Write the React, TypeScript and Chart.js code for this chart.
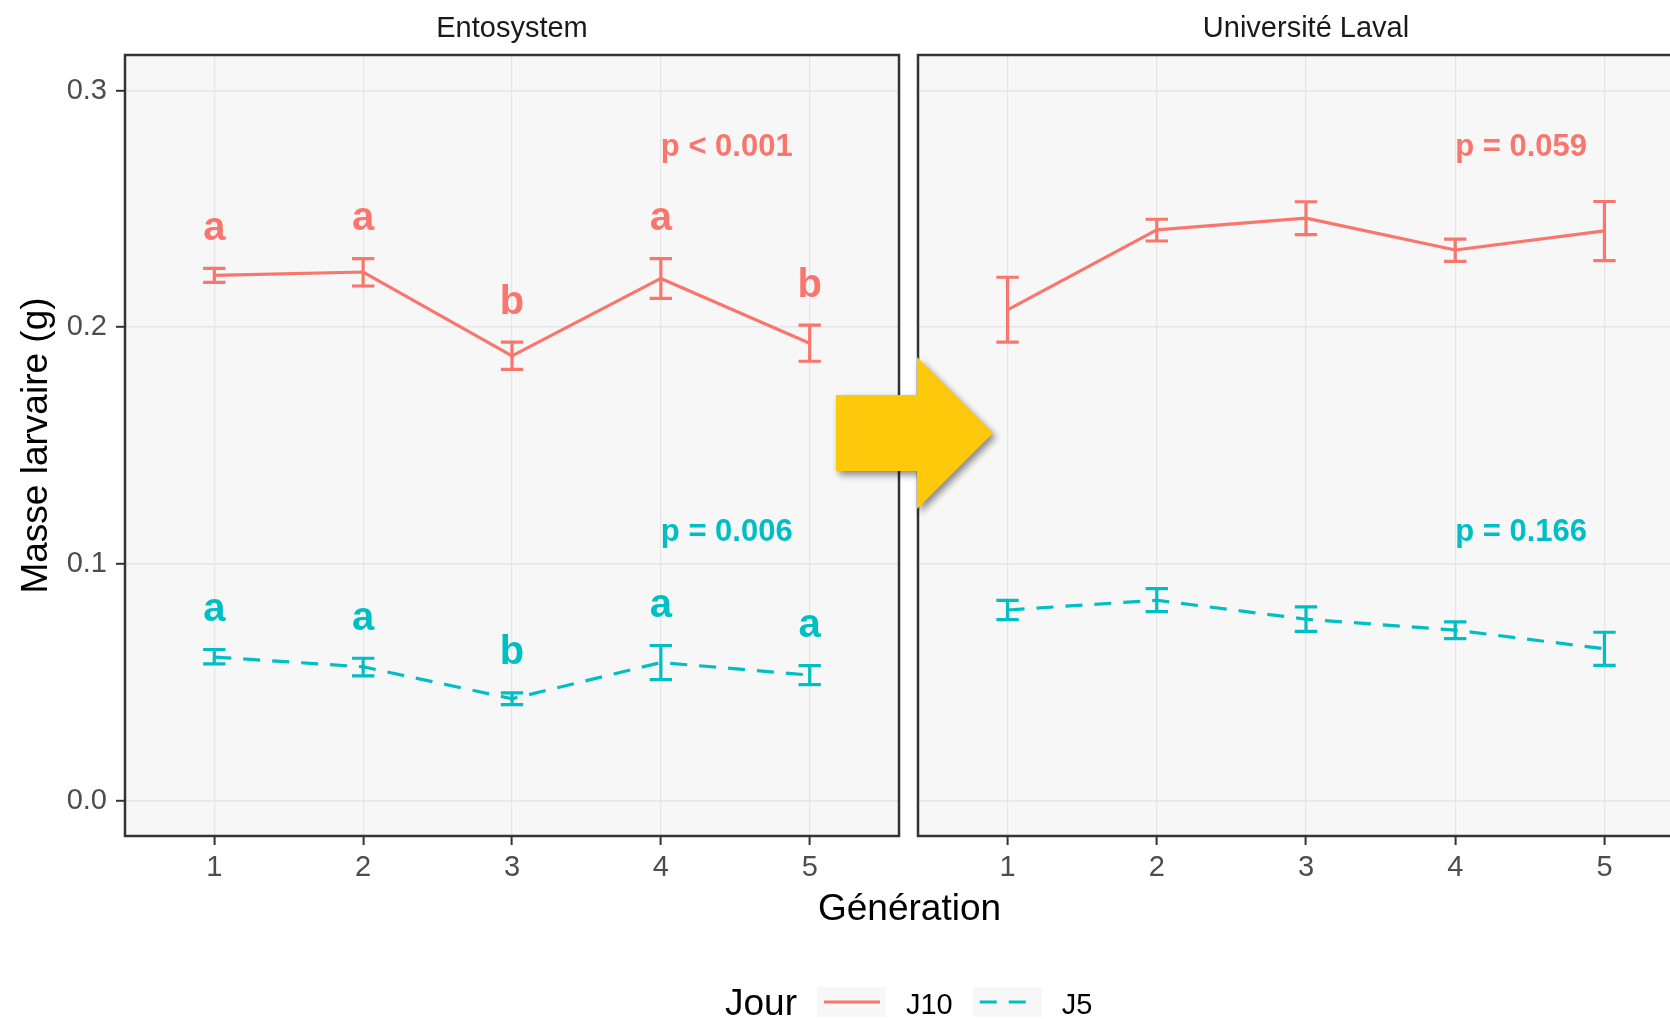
import { useEffect, useRef } from 'react';
import { Chart, registerables } from 'chart.js';

Chart.register(...registerables);

// ---------- data ----------
const generations = [1, 2, 3, 4, 5];
const seriesNames = ['J10', 'J5'];
const panelNames = ['Entosystem', 'Université Laval'];
const yTicks = [0, 0.1, 0.2, 0.3];

const entoJ10Mean = [0.2219, 0.2233, 0.1879, 0.2206, 0.1932];
const entoJ10Low = [0.2189, 0.2174, 0.1822, 0.2122, 0.1856];
const entoJ10High = [0.2248, 0.229, 0.1937, 0.229, 0.2009];
const entoJ5Mean = [0.0606, 0.0565, 0.043, 0.0583, 0.053];
const entoJ5Low = [0.0577, 0.0527, 0.0405, 0.0511, 0.049];
const entoJ5High = [0.0638, 0.0601, 0.0455, 0.0655, 0.057];

const lavalJ10Mean = [0.2073, 0.2411, 0.2461, 0.2326, 0.2407];
const lavalJ10Low = [0.1937, 0.2364, 0.2391, 0.2278, 0.2281];
const lavalJ10High = [0.2211, 0.2456, 0.253, 0.2372, 0.2531];
const lavalJ5Mean = [0.0805, 0.0846, 0.0766, 0.072, 0.0641];
const lavalJ5Low = [0.0764, 0.0798, 0.0715, 0.0684, 0.0571];
const lavalJ5High = [0.0846, 0.0895, 0.0818, 0.0755, 0.0711];

const entoJ10Letters = ['a', 'a', 'b', 'a', 'b'];
const entoJ5Letters = ['a', 'a', 'b', 'a', 'a'];

const entoPValues = ['p < 0.001', 'p = 0.006'];
const lavalPValues = ['p = 0.059', 'p = 0.166'];

// annotation anchors (data units)
const P_LABEL_X = 4;
const P_LABEL_Y = [0.2772, 0.1145];
const LETTER_OFFSET = 0.012;
const ERR_HALF_WIDTH = 0.075;

// ---------- styles ----------
const FONT = "'Liberation Sans', Arial, Helvetica, sans-serif";
const COLORS = ['#F8766D', '#00BFC4'];
const DASHES: number[][] = [[], [17, 12]];
const PANEL_BG = '#f7f7f7';
const GRID = '#e6e6e6';
const BORDER = '#333333';
const TICK_TEXT = '#4d4d4d';
const LINE_W = 3.2;

type PanelCfg = {
  title: string;
  low: number[][];
  high: number[][];
  letters: (string[] | null)[];
  pValues: string[];
  extra?: (chart: any) => void;
};

function makePanelPlugin(cfg: PanelCfg) {
  return {
    id: 'ggpanel',
    beforeDraw(chart: any) {
      const { ctx, chartArea: a } = chart;
      ctx.save();
      ctx.fillStyle = PANEL_BG;
      ctx.fillRect(a.left, a.top, a.right - a.left, a.bottom - a.top);
      ctx.restore();
    },
    afterDatasetsDraw(chart: any) {
      const { ctx, chartArea: a } = chart;
      const xs = chart.scales.x;
      const ys = chart.scales.y;
      ctx.save();
      ctx.beginPath();
      ctx.rect(a.left, a.top, a.right - a.left, a.bottom - a.top);
      ctx.clip();
      ctx.lineWidth = LINE_W;
      ctx.lineCap = 'butt';
      cfg.low.forEach((lowArr, si) => {
        ctx.strokeStyle = COLORS[si];
        generations.forEach((g, j) => {
          const x = xs.getPixelForValue(g);
          const hw = Math.abs(xs.getPixelForValue(g + ERR_HALF_WIDTH) - x);
          const yl = ys.getPixelForValue(lowArr[j]);
          const yh = ys.getPixelForValue(cfg.high[si][j]);
          ctx.beginPath();
          ctx.moveTo(x, yh);
          ctx.lineTo(x, yl);
          ctx.moveTo(x - hw, yh);
          ctx.lineTo(x + hw, yh);
          ctx.moveTo(x - hw, yl);
          ctx.lineTo(x + hw, yl);
          ctx.stroke();
        });
      });
      ctx.restore();
    },
    afterDraw(chart: any) {
      const { ctx, chartArea: a } = chart;
      const xs = chart.scales.x;
      const ys = chart.scales.y;
      ctx.save();
      // panel border
      ctx.strokeStyle = BORDER;
      ctx.lineWidth = 2.5;
      ctx.strokeRect(a.left, a.top, a.right - a.left, a.bottom - a.top);
      // strip title
      ctx.fillStyle = '#1a1a1a';
      ctx.font = `29px ${FONT}`;
      ctx.textAlign = 'center';
      ctx.textBaseline = 'alphabetic';
      ctx.fillText(cfg.title, (a.left + a.right) / 2, 37);
      // significance letters
      ctx.font = `bold 40px ${FONT}`;
      cfg.letters.forEach((arr, si) => {
        if (!arr) return;
        ctx.fillStyle = COLORS[si];
        arr.forEach((l, j) => {
          const x = xs.getPixelForValue(generations[j]);
          const y = ys.getPixelForValue(cfg.high[si][j] + LETTER_OFFSET);
          ctx.fillText(l, x, y);
        });
      });
      // p-values
      ctx.font = `bold 31px ${FONT}`;
      ctx.textAlign = 'left';
      cfg.pValues.forEach((p, si) => {
        ctx.fillStyle = COLORS[si];
        const x = xs.getPixelForValue(P_LABEL_X);
        const y = ys.getPixelForValue(P_LABEL_Y[si]) + 0.358 * 31;
        ctx.fillText(p, x, y);
      });
      ctx.restore();
      if (cfg.extra) cfg.extra(chart);
    },
  };
}

function drawFigureExtras(chart: any) {
  const { ctx, chartArea: a } = chart;
  ctx.save();
  // y title
  ctx.fillStyle = '#000000';
  ctx.font = `37px ${FONT}`;
  ctx.textAlign = 'center';
  ctx.textBaseline = 'alphabetic';
  ctx.save();
  ctx.translate(47, (a.top + a.bottom) / 2);
  ctx.rotate(-Math.PI / 2);
  ctx.fillText('Masse larvaire (g)', 0, 0);
  ctx.restore();
  // x title
  ctx.fillText('Génération', 909.5, 920);

  // legend
  let x = 725;
  const baseline = 1014;
  ctx.textAlign = 'left';
  ctx.font = `37px ${FONT}`;
  ctx.fillText('Jour', x, baseline + 1);
  x += ctx.measureText('Jour').width + 20;
  const keyW = 69;
  const keyH = 30;
  const keyTop = 987;
  chart.data.datasets.forEach((ds: any) => {
    ctx.fillStyle = PANEL_BG;
    ctx.fillRect(x, keyTop, keyW, keyH);
    ctx.strokeStyle = ds.borderColor;
    ctx.lineWidth = LINE_W;
    ctx.setLineDash(ds.borderDash || []);
    ctx.beginPath();
    ctx.moveTo(x + 7, keyTop + keyH / 2);
    ctx.lineTo(x + keyW - 6, keyTop + keyH / 2);
    ctx.stroke();
    ctx.setLineDash([]);
    x += keyW + 20;
    ctx.fillStyle = '#000000';
    ctx.font = `29px ${FONT}`;
    ctx.fillText(ds.label, x, baseline);
    x += ctx.measureText(ds.label).width + 20;
  });

  // yellow arrow (decoration)
  ctx.save();
  ctx.shadowColor = 'rgba(0,0,0,0.45)';
  ctx.shadowBlur = 7;
  ctx.shadowOffsetX = 3;
  ctx.shadowOffsetY = 4;
  ctx.fillStyle = '#FEC80B';
  ctx.beginPath();
  ctx.moveTo(836, 395);
  ctx.lineTo(917, 395);
  ctx.lineTo(917, 357);
  ctx.lineTo(993, 433);
  ctx.lineTo(917, 509);
  ctx.lineTo(917, 471);
  ctx.lineTo(836, 471);
  ctx.closePath();
  ctx.fill();
  ctx.restore();
  ctx.restore();
}

function buildConfig(
  means: number[][],
  cfg: PanelCfg,
  padding: { left: number; right: number },
  showY: boolean
): any {
  return {
    type: 'line',
    data: {
      datasets: seriesNames.map((name, si) => ({
        label: name,
        data: generations.map((g, j) => ({ x: g, y: means[si][j] })),
        borderColor: COLORS[si],
        backgroundColor: COLORS[si],
        borderWidth: LINE_W,
        borderDash: DASHES[si],
        borderJoinStyle: 'round',
        pointRadius: 0,
        tension: 0,
        fill: false,
      })),
    },
    options: {
      responsive: false,
      animation: false,
      events: [],
      layout: { padding: { left: padding.left, right: padding.right, top: 55, bottom: 133 } },
      plugins: {
        legend: { display: false },
        tooltip: { enabled: false },
        title: { display: false },
      },
      scales: {
        x: {
          type: 'linear',
          min: 0.4,
          max: 5.6,
          afterBuildTicks: (s: any) => {
            s.ticks = generations.map((v) => ({ value: v }));
          },
          afterFit: (s: any) => {
            s.height = 50;
          },
          ticks: {
            callback: (v: any) => String(v),
            color: TICK_TEXT,
            font: { size: 29, family: FONT },
            padding: 6,
            maxRotation: 0,
            autoSkip: false,
          },
          grid: {
            color: GRID,
            lineWidth: 1.2,
            drawTicks: true,
            tickLength: 9,
            tickColor: BORDER,
            tickWidth: 2,
          },
          border: { display: false },
        },
        y: {
          type: 'linear',
          min: -0.015,
          max: 0.315,
          afterBuildTicks: (s: any) => {
            s.ticks = yTicks.map((v) => ({ value: v }));
          },
          afterFit: (s: any) => {
            s.width = showY ? 125 : 0;
          },
          ticks: {
            display: showY,
            callback: (v: any) => Number(v).toFixed(1),
            color: TICK_TEXT,
            font: { size: 29, family: FONT },
            padding: 9,
          },
          grid: {
            color: GRID,
            lineWidth: 1.6,
            drawTicks: showY,
            tickLength: 9,
            tickColor: BORDER,
            tickWidth: 2,
          },
          border: { display: false },
        },
      },
    },
    plugins: [makePanelPlugin(cfg)],
  };
}

export default function App() {
  const leftRef = useRef<HTMLCanvasElement>(null);
  const rightRef = useRef<HTMLCanvasElement>(null);

  useEffect(() => {
    Chart.defaults.font.family = FONT;
    const right = new Chart(
      rightRef.current as HTMLCanvasElement,
      buildConfig(
        [lavalJ10Mean, lavalJ5Mean],
        {
          title: panelNames[1],
          low: [lavalJ10Low, lavalJ5Low],
          high: [lavalJ10High, lavalJ5High],
          letters: [null, null],
          pValues: lavalPValues,
        },
        { left: 9, right: 10 },
        false
      )
    );
    const left = new Chart(
      leftRef.current as HTMLCanvasElement,
      buildConfig(
        [entoJ10Mean, entoJ5Mean],
        {
          title: panelNames[0],
          low: [entoJ10Low, entoJ5Low],
          high: [entoJ10High, entoJ5High],
          letters: [entoJ10Letters, entoJ5Letters],
          pValues: entoPValues,
          extra: drawFigureExtras,
        },
        { left: 0, right: 1670 - 899 },
        true
      )
    );
    return () => {
      left.destroy();
      right.destroy();
    };
  }, []);

  return (
    <div
      style={{
        position: 'fixed',
        left: 0,
        top: 0,
        width: 1670,
        height: 1019,
        overflow: 'hidden',
        background: '#ffffff',
      }}
    >
      <canvas
        ref={rightRef}
        width={795}
        height={1019}
        style={{ position: 'absolute', left: 909, top: 0, zIndex: 1 }}
      />
      <canvas
        ref={leftRef}
        width={1670}
        height={1019}
        style={{ position: 'absolute', left: 0, top: 0, zIndex: 2 }}
      />
    </div>
  );
}
